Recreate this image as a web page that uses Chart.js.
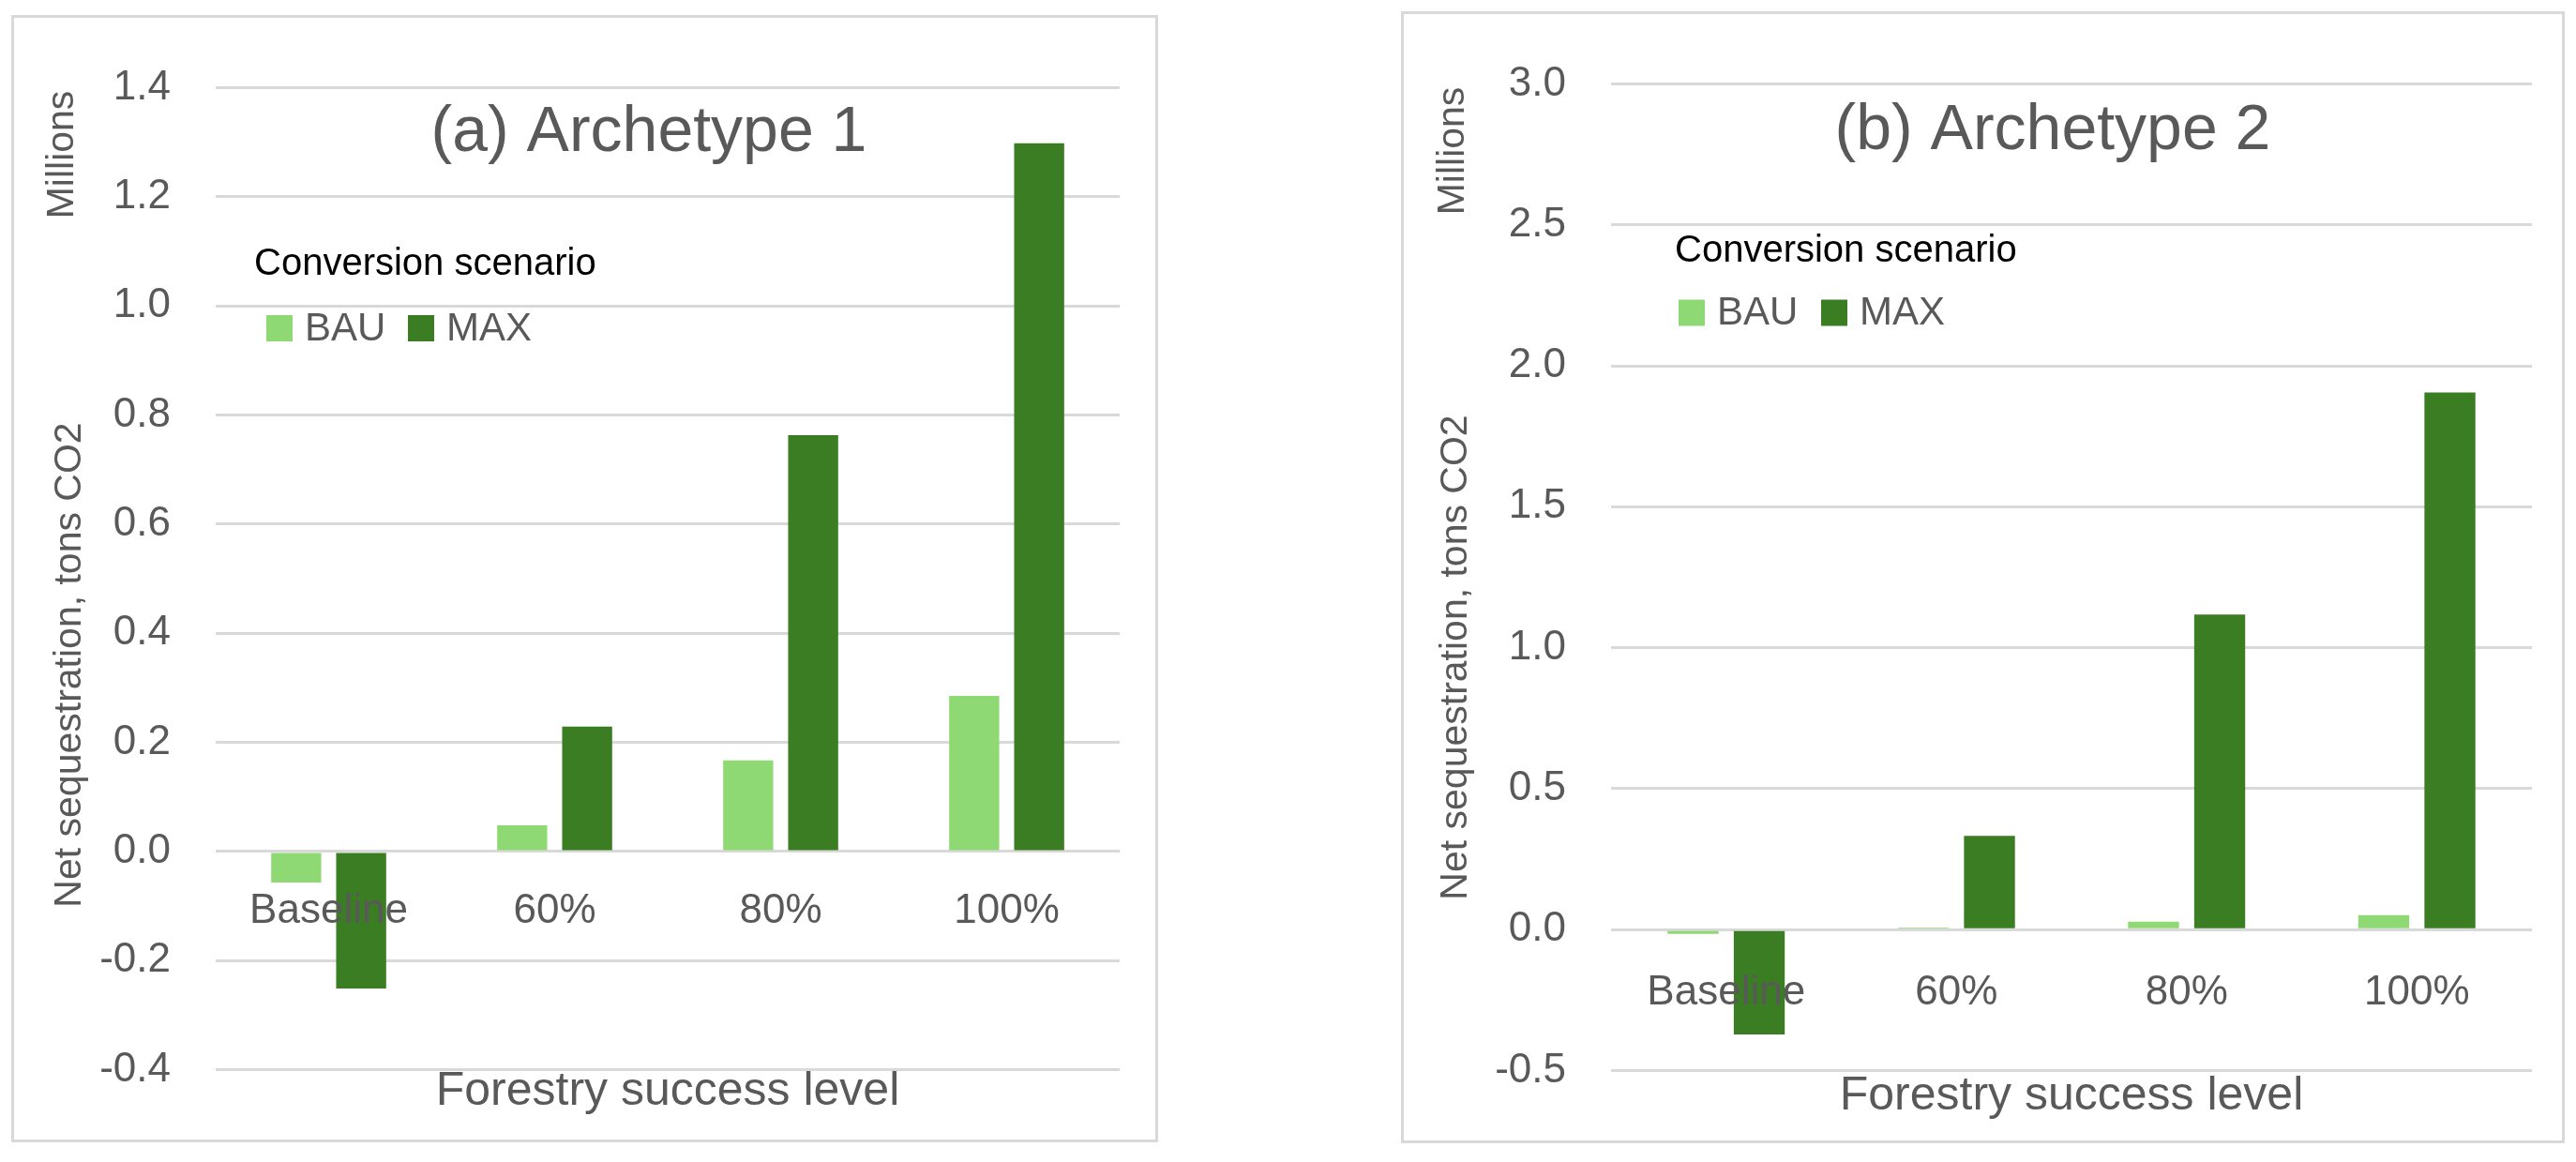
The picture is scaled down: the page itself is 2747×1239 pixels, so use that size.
<!DOCTYPE html>
<html><head><meta charset="utf-8">
<script src="https://cdn.jsdelivr.net/npm/chart.js@4.4.1/dist/chart.umd.min.js"></script>
<style>
html,body{margin:0;padding:0;background:#fff;width:2747px;height:1239px;overflow:hidden;}
.panel{position:absolute;box-sizing:border-box;border:3px solid #d9d9d9;background:#fff;}
.panel canvas{position:absolute;left:0;top:0;}
</style></head><body>
<div class="panel" style="left:12px;top:16px;width:1223px;height:1202px;"><canvas id="c1" width="1217" height="1196"></canvas></div>
<div class="panel" style="left:1494px;top:12px;width:1241px;height:1207px;"><canvas id="c2" width="1235" height="1201"></canvas></div>
<script>
const categories = ['Baseline', '60%', '80%', '100%'];
const seriesNames = ['BAU', 'MAX'];
const a1BAU = [-0.057, 0.048, 0.167, 0.285];
const a1MAX = [-0.251, 0.229, 0.763, 1.298];
const a2BAU = [-0.015, 0.008, 0.028, 0.052];
const a2MAX = [-0.372, 0.333, 1.118, 1.905];
const a1Ticks = [-0.4, -0.2, 0, 0.2, 0.4, 0.6, 0.8, 1.0, 1.2, 1.4];
const a2Ticks = [-0.5, 0, 0.5, 1.0, 1.5, 2.0, 2.5, 3.0];
const titles = ['(a) Archetype 1', '(b) Archetype 2'];
const yTitle = 'Net sequestration, tons CO2';
const xTitle = 'Forestry success level';
const unitLabel = 'Millions';
const legendTitle = 'Conversion scenario';

const FAM = '"Liberation Sans", Arial, sans-serif';
Chart.defaults.font.family = FAM;

const panelText = {
  id: 'panelText',
  afterDraw(chart, args, o) {
    const ctx = chart.ctx;
    ctx.save();
    ctx.fillStyle = '#595959';
    ctx.textAlign = 'center';
    ctx.textBaseline = 'middle';
    ctx.font = '68px ' + FAM;
    ctx.fillText(o.title, o.titleX, o.titleY);
    const rot = (t, x, y, font) => {
      ctx.save(); ctx.translate(x, y); ctx.rotate(-Math.PI / 2);
      ctx.font = font; ctx.fillText(t, 0, 0); ctx.restore();
    };
    rot(unitLabel, o.unitX, o.unitY, '41px ' + FAM);
    rot(yTitle, o.yTitleX, o.yTitleY, '41px ' + FAM);
    ctx.textAlign = 'left';
    ctx.fillStyle = '#000000';
    ctx.font = '40px ' + FAM;
    ctx.fillText(legendTitle, o.legendX, o.legendY);
    ctx.font = '42px ' + FAM;
    chart.data.datasets.forEach((ds, i) => {
      const bx = o.boxX[i];
      ctx.fillStyle = ds.backgroundColor;
      ctx.fillRect(bx, o.boxY - 14, 28, 28);
      ctx.fillStyle = '#595959';
      ctx.fillText(ds.label, bx + 41, o.boxY + 1);
    });
    ctx.restore();
  }
};

function makeChart(id, bau, max, ticks, cfg) {
  return new Chart(document.getElementById(id), {
    type: 'bar',
    data: {
      labels: categories,
      datasets: [
        {label: seriesNames[0], data: bau, backgroundColor: '#8ED973', borderWidth: 0, xAxisID: 'x', yAxisID: 'y', categoryPercentage: 0.575, barPercentage: 0.77},
        {label: seriesNames[1], data: max, backgroundColor: '#3B7D23', borderWidth: 0, xAxisID: 'x', yAxisID: 'y', categoryPercentage: 0.575, barPercentage: 0.77}
      ]
    },
    options: {
      responsive: false, animation: false, devicePixelRatio: 1,
      layout: {padding: {top: cfg.top, right: cfg.right, bottom: 0, left: 0}},
      plugins: {legend: {display: false}, tooltip: {enabled: false}, title: {display: false}, panelText: cfg.text},
      scales: {
        x: {
          type: 'category', position: {y: 0}, z: 1,
          grid: {display: false, drawTicks: false}, border: {display: false},
          ticks: {z: 1, font: {size: 44}, color: '#595959', padding: cfg.xPad, maxRotation: 0, autoSkip: false}
        },
        x2: {
          type: 'category', position: 'bottom',
          grid: {display: false, drawTicks: false}, border: {display: false},
          ticks: {display: false},
          title: {display: true, text: xTitle, font: {size: 50}, color: '#595959', padding: {top: 0, bottom: cfg.x2pb}},
          afterFit(s) { s.height = cfg.x2h; }
        },
        y: {
          type: 'linear', position: 'left',
          min: ticks[0], max: ticks[ticks.length - 1],
          afterBuildTicks(s) { s.ticks = ticks.map(v => ({value: v})); },
          grid: {color: '#d9d9d9', lineWidth: 3, drawTicks: false},
          border: {display: false},
          ticks: {font: {size: 44}, color: '#595959', padding: 48, callback: v => Number(v).toFixed(1)},
          afterFit(s) { s.width = cfg.yW; }
        }
      }
    },
    plugins: [panelText]
  });
}

makeChart('c1', a1BAU, a1MAX, a1Ticks, {
  top: 58, right: 38, yW: 215, x2h: 62, x2pb: 8, xPad: 38,
  text: {title: titles[0], titleX: 677, titleY: 123, unitX: 52, unitY: 146, yTitleX: 60, yTitleY: 690,
         legendX: 256, legendY: 263, boxX: [269, 420], boxY: 331}
});
makeChart('c2', a2BAU, a2MAX, a2Ticks, {
  top: 59, right: 32, yW: 221, x2h: 69, x2pb: 11, xPad: 41,
  text: {title: titles[1], titleX: 692, titleY: 125, unitX: 53, unitY: 146, yTitleX: 56, yTitleY: 686,
         legendX: 289, legendY: 253, boxX: [293, 445], boxY: 318.5}
});
</script>
</body></html>
